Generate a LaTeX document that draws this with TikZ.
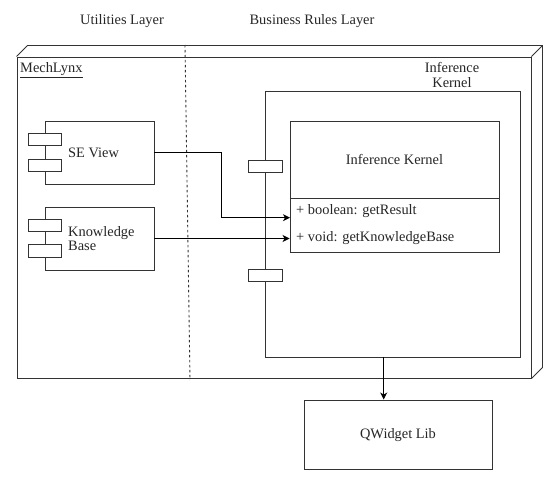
\documentclass[tikz,border=0pt]{standalone}
\usepackage{fontspec}
\setmainfont{Liberation Serif}[Scale=1.2]
\usetikzlibrary{arrows.meta,calc}
\begin{document}
\begin{tikzpicture}[x=1pt,y=-1pt,
  every node/.style={font=\rmfamily\fontsize{12pt}{14pt}\selectfont, text=black!85},
  ln/.style={draw=black!80, line width=0.9pt},
  boxn/.style={ln, rectangle, inner sep=0pt, fill=white},
  arr/.style={draw=black, line width=0.9pt, -{Stealth[length=7pt,width=7pt,inset=2pt]}},
  lbl/.style={inner sep=0pt, align=center}
]
\useasboundingbox (0,0) rectangle (555,478);
% outer 3D node
\node[boxn, minimum width=514pt, minimum height=321pt] (mech) at (274,217.5) {};
\draw[ln] (mech.north west) -- ++(11,-11) -- ([shift={(11,-11)}]mech.north east)
  -- ([shift={(11,-11)}]mech.south east) -- (mech.south east);
\draw[ln] (mech.north east) -- ++(11,-11);
% layer separator
\coordinate (d1) at (185,45);
\coordinate (d2) at (190,380);
\draw[draw=black!80, line width=0.9pt, dash pattern=on 2.5pt off 2.5pt] (d1) -- (d2);
% labels
\node[lbl] (ul) at (122,21) {Utilities Layer};
\node[lbl] (bl) at (312,21) {Business Rules Layer};
\node[lbl, anchor=west] (ml) at (20,70) {\underline{MechLynx}};
\node[lbl, font=\rmfamily\fontsize{12pt}{15pt}\selectfont] (kl) at (452,75) {Inference\\Kernel};
% kernel component
\node[boxn, minimum width=255pt, minimum height=266pt] (kernel) at (392.5,224) {};
\node[boxn, minimum width=34pt, minimum height=12pt] (p1) at (265,166.5) {};
\node[boxn, minimum width=34pt, minimum height=12pt] (p2) at (265,275.5) {};
% class box
\node[boxn, minimum width=209pt, minimum height=131pt] (ic) at (394.5,186.5) {};
\draw[ln] (ic.west |- 0,198) -- (ic.east |- 0,198);
\node[lbl] (ict) at (394.5,160) {Inference Kernel};
\node[lbl, anchor=west] (m1) at (296,211) {+ boolean: getResult};
\node[lbl, anchor=west] (m2) at (296,238) {+ void: getKnowledgeBase};
% SE View component
\node[boxn, minimum width=109pt, minimum height=63pt] (se) at (99.5,152.5) {};
\node[boxn, minimum width=33pt, minimum height=12.5pt] (se1) at (45,139.7) {};
\node[boxn, minimum width=33pt, minimum height=12.5pt] (se2) at (45,165.3) {};
\node[lbl, anchor=west] (set) at (68,152.5) {SE View};
% Knowledge Base component
\node[boxn, minimum width=109pt, minimum height=63pt] (kb) at (99.5,238.5) {};
\node[boxn, minimum width=33pt, minimum height=12.5pt] (kb1) at (45,225.7) {};
\node[boxn, minimum width=33pt, minimum height=12.5pt] (kb2) at (45,250.8) {};
\node[lbl, anchor=west, align=left, font=\rmfamily\fontsize{12pt}{14.5pt}\selectfont] (kbt) at (68,238.5) {Knowledge\\Base};
% QWidget
\node[boxn, minimum width=188pt, minimum height=69pt] (qw) at (398,434.5) {};
\node[lbl] (qwt) at (398,435) {QWidget Lib};
% connectors
\coordinate (a1) at (290,217.7);
\draw[arr] (se.east) -- (221.7,152.5) -- (221.7,217.7) -- (a1);
\draw[arr] (kb.east) -- (kb.east -| ic.west);
\coordinate (q1) at (383.7,357);
\draw[arr] (q1) -- (q1 |- qw.north);
\end{tikzpicture}
\end{document}
